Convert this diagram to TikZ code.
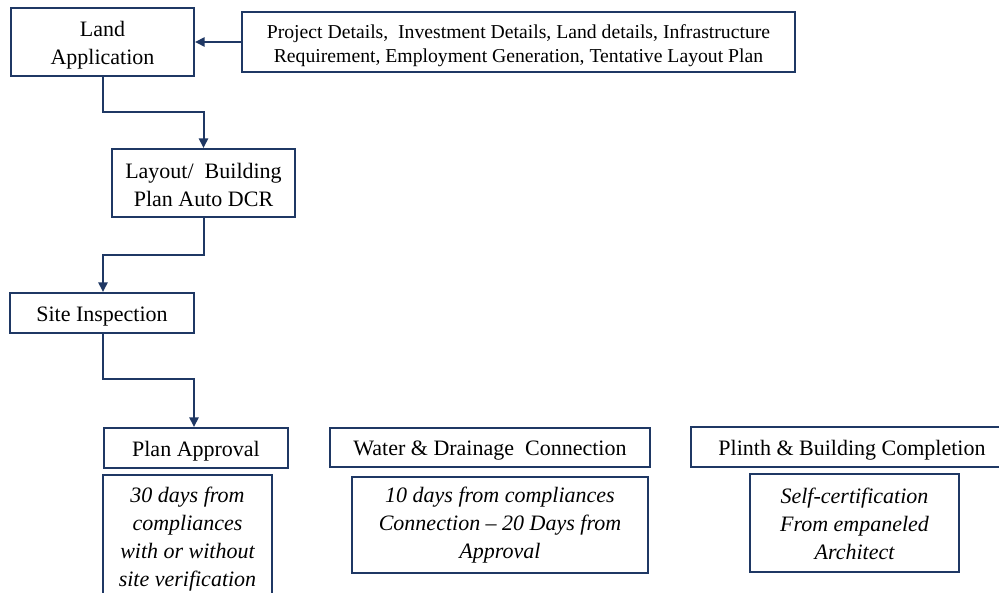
\documentclass[tikz,border=0pt]{standalone}
\usepackage{fontspec}
\setmainfont{Liberation Serif}
\usetikzlibrary{arrows.meta}
\definecolor{navy}{HTML}{1F3864}
\tikzset{
  frame/.style={draw=navy, line width=2pt, fill=white, inner sep=0pt},
  big/.style={inner sep=0pt, align=center, font=\fontsize{22}{28}\selectfont},
  bigit/.style={inner sep=0pt, align=center, font=\fontsize{22}{28}\selectfont\itshape},
  small/.style={inner sep=0pt, align=center, font=\fontsize{19.7}{24}\selectfont},
  flow/.style={draw=navy, line width=2pt, -{Triangle[length=9.5pt,width=9pt]}}
}
\begin{document}
\begin{tikzpicture}[x=1pt,y=-1pt]
\useasboundingbox (0,0) rectangle (999,593);
\fill[white] (0,0) rectangle (999,593);
% boxes
\node[frame, minimum width=183pt, minimum height=68pt] (land) at (102.5,42) {};
\node[frame, minimum width=553pt, minimum height=60pt] (details) at (518.5,42) {};
\node[frame, minimum width=183pt, minimum height=68pt] (layout) at (203.5,183) {};
\node[frame, minimum width=184pt, minimum height=40pt] (site) at (102,313) {};
\node[frame, minimum width=184pt, minimum height=40pt] (plan) at (196,448) {};
\node[frame, minimum width=169pt, minimum height=135pt] (plansub) at (187.5,542.5) {};
\node[frame, minimum width=320pt, minimum height=39pt] (water) at (490,447.5) {};
\node[frame, minimum width=296pt, minimum height=96pt] (watersub) at (500,525) {};
\node[frame, minimum width=322pt, minimum height=40pt] (plinth) at (852,447) {};
\node[frame, minimum width=209pt, minimum height=98pt] (plinthsub) at (854.5,523) {};
% texts
\node[big] (landt) at ([yshift=-3pt]land.center) {Land\\Application};
\node[small] (detailst) at ([yshift=-3.5pt]details.center)
  {Project Details,\ \ Investment Details,\ Land details,\ Infrastructure\\Requirement, Employment Generation, Tentative\ Layout Plan};
\node[big] (layoutt) at ([yshift=-2pt]layout.center) {Layout/\ \ Building\\Plan Auto DCR};
\node[big] (sitet) at ([yshift=-3.5pt]site.center) {Site Inspection};
\node[big] (plant) at ([yshift=-3pt]plan.center) {Plan Approval};
\node[bigit] (plansubt) at (187.5,539) {30 days from\\compliances\\with or without\\site verification};
\node[big] (watert) at ([yshift=-3pt]water.center) {Water \& Drainage\ \ Connection};
\node[bigit] (watersubt) at ([yshift=-0.5pt]watersub.center) {10 days from compliances\\Connection – 20 Days from\\Approval};
\node[big] (plintht) at ([yshift=-3pt]plinth.center) {Plinth \& Building Completion};
\node[bigit] (plinthsubt) at ([yshift=-1pt]plinthsub.center) {Self-certification\\From empaneled\\Architect};
% connectors
\coordinate (c1) at (102.5,112);
\coordinate (c2) at (203.5,112);
\coordinate (c3) at (204,255);
\coordinate (c4) at (103,255);
\coordinate (c5) at (103,379);
\coordinate (c6) at (194,379);
\draw[flow] (details.west) -- (land.east);
\draw[flow] (land.south) -- (c1) -- (c2) -- (layout.north);
\draw[flow] (layout.south -| c3) -- (c3) -- (c4) -- (site.north -| c4);
\draw[flow] (site.south -| c5) -- (c5) -- (c6) -- (plan.north -| c6);
\end{tikzpicture}
\end{document}
